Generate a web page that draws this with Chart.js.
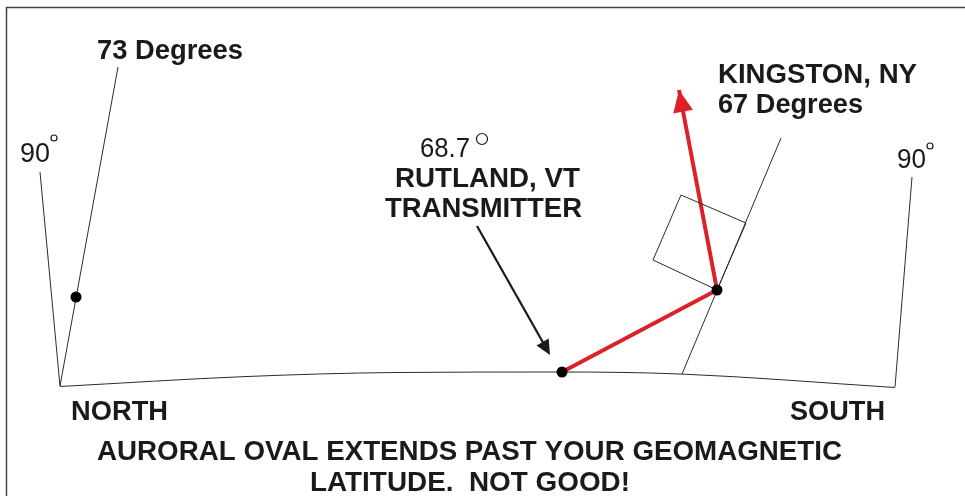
<html>
<head>
<title>Auroral oval geometry</title>
<style>
  html, body { margin: 0; padding: 0; background: #fff; }
  #diagram { display: block; }
</style>
</head>
<body>
<canvas id="diagram" width="965" height="496"></canvas>
<script src="https://cdn.jsdelivr.net/npm/chart.js@4/dist/chart.umd.min.js"></script>
<script>
// diagram geometry, in the chart's own x/y units (y grows downwards)
const northLine = [[40, 172], [60, 386]];
const line73 = [[118, 67], [60, 386]];
const southLine = [[912, 177], [895, 387]];
const groundArc = [[60, 386.5], [247, 376.5], [396, 372.5], [562, 372], [680, 374], [895, 387.5]];
const kingstonLine = [[682, 374], [781, 138]];
const rightAngleBox = [[717, 290], [746, 223], [681, 195], [653, 260], [717, 290]];
const signalPath = [[562, 372], [717, 290], [679, 90]];
const transmitterPointer = [[477, 226], [550, 355]];
const stations = [[76, 297], [562, 372], [717, 290]];

// text labels: [text, x, y]
const boldLabels = [
  ["73 Degrees", 97, 59],
  ["RUTLAND, VT", 395, 187],
  ["TRANSMITTER", 385, 217],
  ["KINGSTON, NY", 718, 83],
  ["67 Degrees", 718, 113],
  ["NORTH", 71, 420],
  ["SOUTH", 790, 420],
  ["AURORAL OVAL EXTENDS PAST YOUR GEOMAGNETIC", 97, 460],
  ["LATITUDE.  NOT GOOD!", 310, 491]
];
const angleLabels = [["90", 20, 162], ["68.7", 420, 157], ["90", 897, 168]];
const degreeMarks = [[54, 138, 3], [482, 139, 5.5], [930, 146, 3]];

const pts = arr => arr.map(p => ({ x: p[0], y: p[1] }));

function thin(data, extra) {
  return Object.assign({
    data: pts(data), showLine: true, borderColor: "#2b2b2b", borderWidth: 1,
    pointRadius: 0, fill: false
  }, extra || {});
}

// drawn widths the text is stretched to, in pixels
const boldWidths = [146, 185, 197, 199, 145, 97, 95, 745, 320];
const angleWidths = [30, 50, 29];

const overlay = {
  id: "overlay",
  afterDatasetsDraw(chart) {
    const ctx = chart.ctx;
    const xs = chart.scales.x, ys = chart.scales.y;
    const px = p => [xs.getPixelForValue(p[0]), ys.getPixelForValue(p[1])];

    function arrowHead(from, to, len, half, color) {
      const a = px(from), b = px(to);
      const dx = b[0] - a[0], dy = b[1] - a[1];
      const d = Math.hypot(dx, dy), ux = dx / d, uy = dy / d;
      const bx = b[0] - ux * len, by = b[1] - uy * len;
      ctx.beginPath();
      ctx.moveTo(b[0], b[1]);
      ctx.lineTo(bx - uy * half, by + ux * half);
      ctx.lineTo(bx + uy * half, by - ux * half);
      ctx.closePath();
      ctx.fillStyle = color;
      ctx.fill();
    }

    function fitText(t, x, y, w) {
      const p = px([x, y]);
      const m = ctx.measureText(t).width;
      ctx.save();
      ctx.translate(p[0], p[1]);
      ctx.scale(w / m, 1);
      ctx.fillText(t, 0, 0);
      ctx.restore();
    }

    ctx.save();
    arrowHead(signalPath[1], signalPath[2], 22, 10, "#dc2128");
    arrowHead(transmitterPointer[0], transmitterPointer[1], 15, 7, "#1a1a1a");

    ctx.fillStyle = "#1a1a1a";
    ctx.textBaseline = "alphabetic";
    ctx.textAlign = "left";
    ctx.font = "bold 27px 'Liberation Sans', Arial, sans-serif";
    boldLabels.forEach((l, i) => fitText(l[0], l[1], l[2], boldWidths[i]));

    ctx.font = "28px 'Liberation Sans', Arial, sans-serif";
    angleLabels.forEach((l, i) => fitText(l[0], l[1], l[2], angleWidths[i]));
    ctx.strokeStyle = "#1a1a1a";
    ctx.lineWidth = 1.2;
    degreeMarks.forEach(m => {
      const p = px([m[0], m[1]]);
      ctx.beginPath();
      ctx.arc(p[0], p[1], m[2], 0, Math.PI * 2);
      ctx.stroke();
    });

    // frame
    ctx.strokeStyle = "#444";
    ctx.lineWidth = 1.5;
    ctx.beginPath();
    ctx.moveTo(6.5, 500);
    ctx.lineTo(6.5, 7.5);
    ctx.lineTo(965, 7.5);
    ctx.stroke();
    ctx.restore();
  }
};

new Chart(document.getElementById("diagram"), {
  type: "scatter",
  data: {
    datasets: [
      { data: pts(stations), pointRadius: 5.5, pointBackgroundColor: "#000", pointBorderWidth: 0, showLine: false },
      thin(northLine),
      thin(line73),
      thin(southLine),
      thin(groundArc, { tension: 0.4, cubicInterpolationMode: "monotone" }),
      thin(kingstonLine),
      thin(rightAngleBox),
      thin(transmitterPointer.slice(0, 1).concat([[545, 346]]), { borderColor: "#1a1a1a", borderWidth: 2.2 }),
      thin(signalPath, { borderColor: "#dc2128", borderWidth: 4 })
    ]
  },
  options: {
    responsive: false,
    animation: false,
    layout: { padding: 0, autoPadding: false },
    plugins: { legend: { display: false }, tooltip: { enabled: false } },
    scales: {
      x: { type: "linear", min: 0, max: 965, display: false },
      y: { type: "linear", min: 0, max: 496, reverse: true, display: false }
    }
  },
  plugins: [overlay]
});
</script>
</body>
</html>
